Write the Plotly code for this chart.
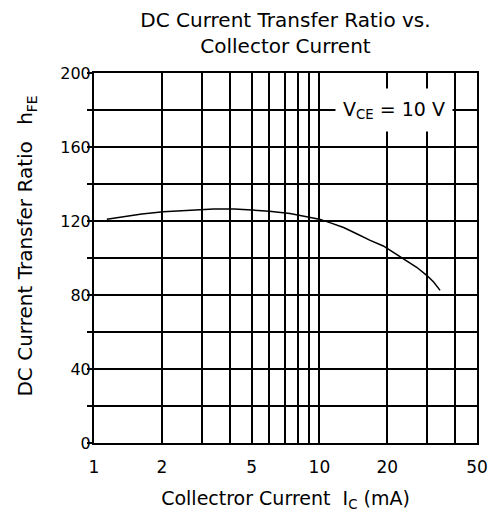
import plotly.graph_objects as go

# Data
ic_mA = [1.14, 1.35, 1.63, 2.03, 2.6, 3.4, 4.2, 5.0, 6.0, 7.4, 8.5, 10.0, 11.2, 12.8,
         14.7, 16.8, 19.2, 21.3, 24.4, 27.0, 30.0, 32.1, 34.3]
hfe = [121, 122.5, 123.8, 125, 125.8, 126.5, 126.5, 126, 125.3, 124, 122.5, 121, 119, 116.5,
       113, 109.5, 106.5, 103, 98.5, 95, 90.5, 87, 82.5]

x_grid = [1, 2, 3, 4, 5, 6, 7, 8, 9, 10, 20, 30, 40, 50]
x_labels = ["1", "2", "", "", "5", "", "", "", "", "10", "20", "", "", "50"]
y_grid = [0, 20, 40, 60, 80, 100, 120, 140, 160, 180, 200]
y_labels = ["0", "", "40", "", "80", "", "120", "", "160", "", "200"]

FONT = "DejaVu Sans, Verdana, sans-serif"

fig = go.Figure()
fig.add_trace(go.Scatter(x=ic_mA, y=hfe, mode="lines",
                         line=dict(color="black", width=1.5),
                         showlegend=False))

fig.update_layout(
    width=494, height=512,
    margin=dict(l=94, r=17, t=73, b=69),
    paper_bgcolor="white", plot_bgcolor="white",
    font=dict(family=FONT, size=17, color="black"),
    title=dict(text="DC Current Transfer Ratio vs.<br>Collector Current",
               xref="paper", x=0.5, xanchor="center",
               yref="container", y=0.9476, yanchor="top", pad=dict(t=0),
               font=dict(size=20)),
    showlegend=False,
)
fig.update_xaxes(type="log", range=[0, 1.69897],
                 tickvals=x_grid, ticktext=x_labels,
                 showgrid=True, gridcolor="black", gridwidth=1.5,
                 showline=True, linecolor="black", linewidth=2, mirror=True,
                 ticks="", zeroline=False, automargin=False,
                 ticklabeloverflow="allow",
                 tickfont=dict(size=17), ticklabelstandoff=8,
                 title=dict(text="Collectror Current  I<sub>C</sub> (mA)",
                            font=dict(size=19), standoff=15))
fig.update_yaxes(range=[0, 200],
                 tickvals=y_grid, ticktext=y_labels,
                 showgrid=True, gridcolor="black", gridwidth=1.5,
                 showline=True, linecolor="black", linewidth=2, mirror=True,
                 ticks="outside", ticklen=5, tickwidth=1.5, tickcolor="black",
                 zeroline=False, automargin=False,
                 ticklabeloverflow="allow",
                 tickfont=dict(size=16), ticklabelstandoff=-7)

# y-axis title (placed as rotated text so it can sit slightly above the axis centre)
fig.add_annotation(x=-0.1775, y=0.531, xref="paper", yref="paper",
                   xanchor="center", yanchor="middle", textangle=-90,
                   text="DC Current Transfer Ratio \u2002h<sub>FE</sub>",
                   showarrow=False, font=dict(size=20))

fig.add_annotation(x=1.33, y=180, xref="x", yref="y",
                   text="V<sub>CE</sub> = 10 V", showarrow=False,
                   bgcolor="white", width=114, height=40,
                   font=dict(size=19))

# remove the browser's default 8px body margin so the 494x512 figure fills the window
fig.write_html("out.html", config={"displayModeBar": False},
               post_script="document.body.style.margin='0';document.body.style.overflow='hidden';")
